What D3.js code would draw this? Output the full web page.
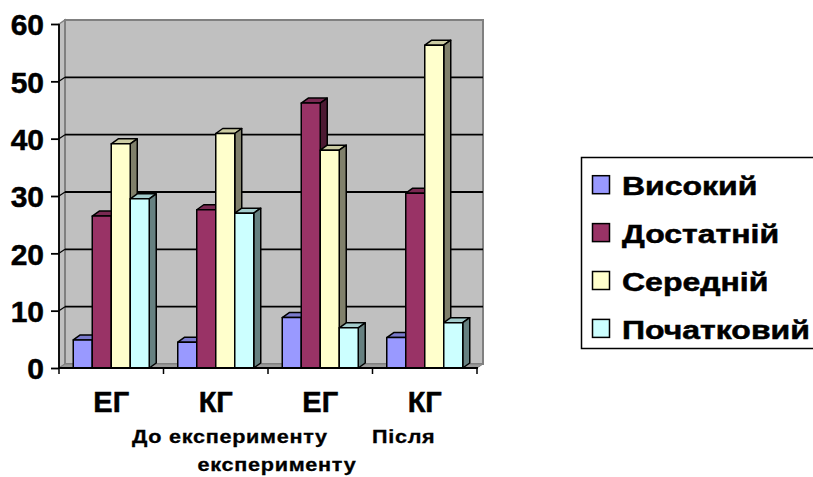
<!DOCTYPE html>
<html>
<head>
<meta charset="utf-8">
<script src="https://cdn.jsdelivr.net/npm/d3@7/dist/d3.min.js"></script>
<style>
  html, body { margin: 0; padding: 0; background: #fff; }
  svg { display: block; }
  svg text { font-family: "Liberation Sans", Arial, sans-serif; font-weight: 700; fill: #000;
             stroke: #000; stroke-width: 0.5px; }
</style>
</head>
<body>
<svg id="chart" width="813" height="477"></svg>
<script>
// Categories along the x axis
const groups = ["ЕГ", "КГ", "ЕГ", "КГ"];
// Series (achievement levels)
const series = ["Високий", "Достатній", "Середній", "Початковий"];
// Percentages per group, one array per series
const vysokyi     = [4.9, 4.5, 8.8, 5.3];
const dostatnii   = [26.5, 27.6, 46.2, 30.5];
const serednii    = [39.1, 40.9, 38.0, 56.3];
const pochatkovyi = [29.5, 27.0, 7.0, 7.9];
const yTicks = [0, 10, 20, 30, 40, 50, 60];

const values = [vysokyi, dostatnii, serednii, pochatkovyi];
const faceColors = ["#9999FF", "#993366", "#FFFFCC", "#CCFFFF"];
const topColors  = ["#7A7ACC", "#7A2952", "#CCCCA3", "#A3CCCC"];
const sideColors = ["#5C5C99", "#4D1A33", "#80806B", "#668080"];

const svg = d3.select("#chart");

// front plane geometry
const plotL = 59, plotR = 477, plotT = 24, plotB = 368;
const wdx = 6, wdy = 4;      // depth of walls
const bdx = 7, bdy = 5;      // depth of bars

const y = d3.scaleLinear().domain([0, 60]).range([plotB, plotT]);
const x0 = d3.scaleBand().domain(d3.range(groups.length)).range([plotL, plotR]).padding(0);
const x1 = d3.scaleBand().domain(d3.range(series.length)).range([0, x0.bandwidth()])
  .paddingInner(0).paddingOuter(0.75);

// side wall
svg.append("polygon")
  .attr("points", [[plotL, y(60)], [plotL + wdx, y(60) - wdy], [plotL + wdx, plotB - wdy], [plotL, plotB]].join(" "))
  .attr("fill", "#C0C0C0").attr("stroke", "#808080").attr("stroke-width", 1.5);

// back wall
svg.append("rect")
  .attr("x", plotL + wdx).attr("y", y(60) - wdy)
  .attr("width", plotR - plotL).attr("height", plotB - y(60))
  .attr("fill", "#C0C0C0").attr("stroke", "#808080").attr("stroke-width", 2);

// gridlines on back and side walls
const grid = svg.append("g").attr("stroke", "#000").attr("stroke-width", 1.8).attr("fill", "none");
yTicks.filter(v => v > 0 && v < 60).forEach(v => {
  grid.append("line")
    .attr("x1", plotL + wdx).attr("x2", plotR + wdx)
    .attr("y1", y(v) - wdy).attr("y2", y(v) - wdy);
  grid.append("line")
    .attr("x1", plotL).attr("x2", plotL + wdx)
    .attr("y1", y(v)).attr("y2", y(v) - wdy)
    .attr("stroke-width", 1.2);
});

// floor
svg.append("polygon")
  .attr("points", [[plotL, plotB], [plotR, plotB], [plotR + wdx, plotB - wdy], [plotL + wdx, plotB - wdy]].join(" "))
  .attr("fill", "#9A9A9A").attr("stroke", "#808080").attr("stroke-width", 1);

// bars, drawn left to right so each front face covers the previous side face
const bars = svg.append("g").attr("stroke", "#000").attr("stroke-width", 1.5).attr("stroke-linejoin", "round");
groups.forEach((g, gi) => {
  series.forEach((s, si) => {
    const v = values[si][gi];
    const bx = x0(gi) + x1(si), bw = x1.bandwidth();
    const by = y(v);
    // top face
    bars.append("polygon")
      .attr("points", [[bx, by], [bx + bw, by], [bx + bw + bdx, by - bdy], [bx + bdx, by - bdy]].join(" "))
      .attr("fill", topColors[si]);
    // right side face
    bars.append("polygon")
      .attr("points", [[bx + bw, by], [bx + bw + bdx, by - bdy], [bx + bw + bdx, plotB - bdy], [bx + bw, plotB]].join(" "))
      .attr("fill", sideColors[si]);
    // front face
    bars.append("rect")
      .attr("x", bx).attr("y", by).attr("width", bw).attr("height", plotB - by)
      .attr("fill", faceColors[si]);
  });
});

// y axis
const yAxis = svg.append("g").attr("transform", `translate(${plotL},0)`)
  .call(d3.axisLeft(y).tickValues(yTicks).tickSize(8).tickPadding(7).tickFormat(d3.format("d")));
yAxis.attr("font-family", null).attr("font-size", null);
yAxis.select(".domain").attr("stroke", "#000").attr("stroke-width", 1.8).attr("d", `M0,${plotT}V${plotB}`);
yAxis.selectAll(".tick line").attr("stroke", "#000").attr("stroke-width", 1.8);
yAxis.selectAll(".tick text")
  .style("font-size", "30px").attr("dy", "0.36em");

// x axis line and category boundary ticks
svg.append("line").attr("x1", plotL).attr("x2", plotR + 1).attr("y1", plotB).attr("y2", plotB)
  .attr("stroke", "#000").attr("stroke-width", 2);
svg.append("g").selectAll("line")
  .data(d3.range(groups.length + 1))
  .join("line")
  .attr("x1", i => plotL + i * x0.bandwidth()).attr("x2", i => plotL + i * x0.bandwidth())
  .attr("y1", plotB).attr("y2", plotB + 6)
  .attr("stroke", "#000").attr("stroke-width", 1.5);

// category labels
svg.append("g").selectAll("text")
  .data(groups)
  .join("text")
  .attr("x", (d, i) => x0(i) + x0.bandwidth() / 2)
  .attr("y", 411.5)
  .attr("text-anchor", "middle")
  .style("font-size", "29px")
  .text(d => d);

// axis title (wrapped over two lines), slightly widened lettering
const title = svg.append("g");
const titleText = (x, yy, s, anchor) => title.append("text")
  .attr("transform", `translate(${x},${yy}) scale(1.2,1)`)
  .attr("text-anchor", anchor)
  .style("font-size", "18px").style("letter-spacing", "0.6px").style("stroke-width", "0.3px").text(s);
titleText(132, 443, "До експерименту", "start");
titleText(372, 443, "Після", "start");
titleText(277, 471, "експерименту", "middle");

// legend
const legend = svg.append("g");
legend.append("rect")
  .attr("x", 581.5).attr("y", 157.5).attr("width", 240).attr("height", 191)
  .attr("fill", "#fff").attr("stroke", "#000").attr("stroke-width", 1.5);
series.forEach((s, i) => {
  const cy = 184.7 + i * 47.9;
  legend.append("rect")
    .attr("x", 592.5).attr("y", cy - 9).attr("width", 17).attr("height", 18)
    .attr("fill", faceColors[i]).attr("stroke", "#000").attr("stroke-width", 1.5);
  legend.append("text")
    .attr("transform", `translate(622,${cy + 10.5}) scale(1.28,1)`)
    .style("font-size", "25px")
    .text(s);
});
</script>
</body>
</html>
